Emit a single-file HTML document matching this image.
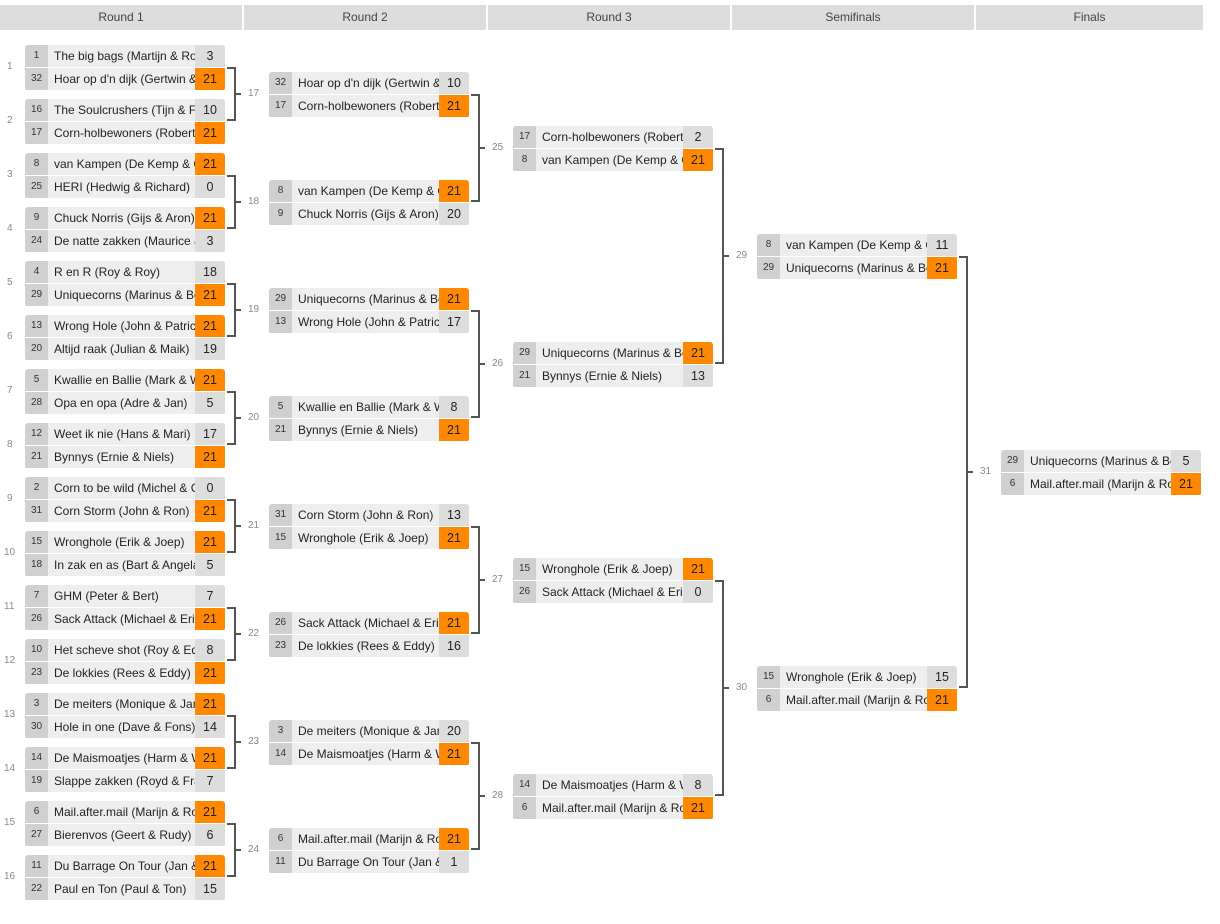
<!DOCTYPE html>
<html><head><meta charset="utf-8"><style>
body{margin:0;width:1220px;height:924px;background:#fff;position:relative;overflow:hidden;font-family:"Liberation Sans",sans-serif;}
.h{position:absolute;top:5px;height:25px;background:#ddd;color:#444;font-size:12px;line-height:25px;text-align:center;}
.m{position:absolute;width:200px;border-radius:3px;overflow:hidden;}
.r{height:22px;margin-bottom:1px;display:flex;font-size:12px;line-height:22px;}
.s{width:23px;background:#d0d0d0;color:#333;font-size:10px;text-align:center;flex:none;}
.n{width:141px;background:#eee;color:#222;padding-left:6px;white-space:nowrap;overflow:hidden;flex:none;}
.c{width:30px;background:#ddd;color:#222;text-align:center;flex:none;font-size:12.5px;}
.w{background:#ff8800;}
.l{position:absolute;font-size:10px;color:#889;}
svg{position:absolute;left:0;top:0;}
</style></head><body>
<div class="h" style="left:0;width:242px">Round 1</div>
<div class="h" style="left:244px;width:242px">Round 2</div>
<div class="h" style="left:488px;width:242px">Round 3</div>
<div class="h" style="left:732px;width:242px">Semifinals</div>
<div class="h" style="left:976px;width:227px">Finals</div>

<svg width="1220" height="924"><g stroke="#555" stroke-width="2" fill="none">
<path d="M227 68H235V120H227M235 94H241"/><path d="M227 176H235V228H227M235 202H241"/><path d="M227 284H235V336H227M235 310H241"/><path d="M227 392H235V444H227M235 418H241"/><path d="M227 500H235V552H227M235 526H241"/><path d="M227 608H235V660H227M235 634H241"/><path d="M227 716H235V768H227M235 742H241"/><path d="M227 824H235V876H227M235 850H241"/>
<path d="M471 95H479V201H471M479 148H485"/><path d="M471 311H479V417H471M479 364H485"/><path d="M471 527H479V633H471M479 580H485"/><path d="M471 743H479V849H471M479 796H485"/>
<path d="M715 149H723V363H715M723 256H729"/><path d="M715 581H723V795H715M723 688H729"/>
<path d="M959 257H967V687H959M967 472H973"/>
</g></svg>

<div class="l" style="left:7px;top:61px">1</div><div class="l" style="left:7px;top:115px">2</div><div class="l" style="left:7px;top:169px">3</div><div class="l" style="left:7px;top:223px">4</div><div class="l" style="left:7px;top:277px">5</div><div class="l" style="left:7px;top:331px">6</div><div class="l" style="left:7px;top:385px">7</div><div class="l" style="left:7px;top:439px">8</div><div class="l" style="left:7px;top:493px">9</div><div class="l" style="left:4px;top:547px">10</div><div class="l" style="left:4px;top:601px">11</div><div class="l" style="left:4px;top:655px">12</div><div class="l" style="left:4px;top:709px">13</div><div class="l" style="left:4px;top:763px">14</div><div class="l" style="left:4px;top:817px">15</div><div class="l" style="left:4px;top:871px">16</div>
<div class="l" style="left:248px;top:88px">17</div><div class="l" style="left:248px;top:196px">18</div><div class="l" style="left:248px;top:304px">19</div><div class="l" style="left:248px;top:412px">20</div><div class="l" style="left:248px;top:520px">21</div><div class="l" style="left:248px;top:628px">22</div><div class="l" style="left:248px;top:736px">23</div><div class="l" style="left:248px;top:844px">24</div>
<div class="l" style="left:492px;top:142px">25</div><div class="l" style="left:492px;top:358px">26</div><div class="l" style="left:492px;top:574px">27</div><div class="l" style="left:492px;top:790px">28</div>
<div class="l" style="left:736px;top:250px">29</div><div class="l" style="left:736px;top:682px">30</div>
<div class="l" style="left:980px;top:466px">31</div>

<!-- Round 1 -->
<div class="m" style="left:25px;top:45px"><div class="r"><span class="s">1</span><span class="n">The big bags (Martijn &amp; Rob)</span><span class="c">3</span></div><div class="r"><span class="s">32</span><span class="n">Hoar op d'n dijk (Gertwin &amp; Bas)</span><span class="c w">21</span></div></div>
<div class="m" style="left:25px;top:99px"><div class="r"><span class="s">16</span><span class="n">The Soulcrushers (Tijn &amp; Frank)</span><span class="c">10</span></div><div class="r"><span class="s">17</span><span class="n">Corn-holbewoners (Robert &amp; Jan)</span><span class="c w">21</span></div></div>
<div class="m" style="left:25px;top:153px"><div class="r"><span class="s">8</span><span class="n">van Kampen (De Kemp &amp; Co)</span><span class="c w">21</span></div><div class="r"><span class="s">25</span><span class="n">HERI (Hedwig &amp; Richard)</span><span class="c">0</span></div></div>
<div class="m" style="left:25px;top:207px"><div class="r"><span class="s">9</span><span class="n">Chuck Norris (Gijs &amp; Aron)</span><span class="c w">21</span></div><div class="r"><span class="s">24</span><span class="n">De natte zakken (Maurice &amp; Co)</span><span class="c">3</span></div></div>
<div class="m" style="left:25px;top:261px"><div class="r"><span class="s">4</span><span class="n">R en R (Roy &amp; Roy)</span><span class="c">18</span></div><div class="r"><span class="s">29</span><span class="n">Uniquecorns (Marinus &amp; Bert)</span><span class="c w">21</span></div></div>
<div class="m" style="left:25px;top:315px"><div class="r"><span class="s">13</span><span class="n">Wrong Hole (John &amp; Patrick)</span><span class="c w">21</span></div><div class="r"><span class="s">20</span><span class="n">Altijd raak (Julian &amp; Maik)</span><span class="c">19</span></div></div>
<div class="m" style="left:25px;top:369px"><div class="r"><span class="s">5</span><span class="n">Kwallie en Ballie (Mark &amp; Wim)</span><span class="c w">21</span></div><div class="r"><span class="s">28</span><span class="n">Opa en opa (Adre &amp; Jan)</span><span class="c">5</span></div></div>
<div class="m" style="left:25px;top:423px"><div class="r"><span class="s">12</span><span class="n">Weet ik nie (Hans &amp; Mari)</span><span class="c">17</span></div><div class="r"><span class="s">21</span><span class="n">Bynnys (Ernie &amp; Niels)</span><span class="c w">21</span></div></div>
<div class="m" style="left:25px;top:477px"><div class="r"><span class="s">2</span><span class="n">Corn to be wild (Michel &amp; Co)</span><span class="c">0</span></div><div class="r"><span class="s">31</span><span class="n">Corn Storm (John &amp; Ron)</span><span class="c w">21</span></div></div>
<div class="m" style="left:25px;top:531px"><div class="r"><span class="s">15</span><span class="n">Wronghole (Erik &amp; Joep)</span><span class="c w">21</span></div><div class="r"><span class="s">18</span><span class="n">In zak en as (Bart &amp; Angela)</span><span class="c">5</span></div></div>
<div class="m" style="left:25px;top:585px"><div class="r"><span class="s">7</span><span class="n">GHM (Peter &amp; Bert)</span><span class="c">7</span></div><div class="r"><span class="s">26</span><span class="n">Sack Attack (Michael &amp; Erik)</span><span class="c w">21</span></div></div>
<div class="m" style="left:25px;top:639px"><div class="r"><span class="s">10</span><span class="n">Het scheve shot (Roy &amp; Ed)</span><span class="c">8</span></div><div class="r"><span class="s">23</span><span class="n">De lokkies (Rees &amp; Eddy)</span><span class="c w">21</span></div></div>
<div class="m" style="left:25px;top:693px"><div class="r"><span class="s">3</span><span class="n">De meiters (Monique &amp; Jan)</span><span class="c w">21</span></div><div class="r"><span class="s">30</span><span class="n">Hole in one (Dave &amp; Fons)</span><span class="c">14</span></div></div>
<div class="m" style="left:25px;top:747px"><div class="r"><span class="s">14</span><span class="n">De Maismoatjes (Harm &amp; Wim)</span><span class="c w">21</span></div><div class="r"><span class="s">19</span><span class="n">Slappe zakken (Royd &amp; Frank)</span><span class="c">7</span></div></div>
<div class="m" style="left:25px;top:801px"><div class="r"><span class="s">6</span><span class="n">Mail.after.mail (Marijn &amp; Rob)</span><span class="c w">21</span></div><div class="r"><span class="s">27</span><span class="n">Bierenvos (Geert &amp; Rudy)</span><span class="c">6</span></div></div>
<div class="m" style="left:25px;top:855px"><div class="r"><span class="s">11</span><span class="n">Du Barrage On Tour (Jan &amp; Co)</span><span class="c w">21</span></div><div class="r"><span class="s">22</span><span class="n">Paul en Ton (Paul &amp; Ton)</span><span class="c">15</span></div></div>

<!-- Round 2 -->
<div class="m" style="left:269px;top:72px"><div class="r"><span class="s">32</span><span class="n">Hoar op d'n dijk (Gertwin &amp; Bas)</span><span class="c">10</span></div><div class="r"><span class="s">17</span><span class="n">Corn-holbewoners (Robert &amp; Jan)</span><span class="c w">21</span></div></div>
<div class="m" style="left:269px;top:180px"><div class="r"><span class="s">8</span><span class="n">van Kampen (De Kemp &amp; Co)</span><span class="c w">21</span></div><div class="r"><span class="s">9</span><span class="n">Chuck Norris (Gijs &amp; Aron)</span><span class="c">20</span></div></div>
<div class="m" style="left:269px;top:288px"><div class="r"><span class="s">29</span><span class="n">Uniquecorns (Marinus &amp; Bert)</span><span class="c w">21</span></div><div class="r"><span class="s">13</span><span class="n">Wrong Hole (John &amp; Patrick)</span><span class="c">17</span></div></div>
<div class="m" style="left:269px;top:396px"><div class="r"><span class="s">5</span><span class="n">Kwallie en Ballie (Mark &amp; Wim)</span><span class="c">8</span></div><div class="r"><span class="s">21</span><span class="n">Bynnys (Ernie &amp; Niels)</span><span class="c w">21</span></div></div>
<div class="m" style="left:269px;top:504px"><div class="r"><span class="s">31</span><span class="n">Corn Storm (John &amp; Ron)</span><span class="c">13</span></div><div class="r"><span class="s">15</span><span class="n">Wronghole (Erik &amp; Joep)</span><span class="c w">21</span></div></div>
<div class="m" style="left:269px;top:612px"><div class="r"><span class="s">26</span><span class="n">Sack Attack (Michael &amp; Erik)</span><span class="c w">21</span></div><div class="r"><span class="s">23</span><span class="n">De lokkies (Rees &amp; Eddy)</span><span class="c">16</span></div></div>
<div class="m" style="left:269px;top:720px"><div class="r"><span class="s">3</span><span class="n">De meiters (Monique &amp; Jan)</span><span class="c">20</span></div><div class="r"><span class="s">14</span><span class="n">De Maismoatjes (Harm &amp; Wim)</span><span class="c w">21</span></div></div>
<div class="m" style="left:269px;top:828px"><div class="r"><span class="s">6</span><span class="n">Mail.after.mail (Marijn &amp; Rob)</span><span class="c w">21</span></div><div class="r"><span class="s">11</span><span class="n">Du Barrage On Tour (Jan &amp; Co)</span><span class="c">1</span></div></div>

<!-- Round 3 -->
<div class="m" style="left:513px;top:126px"><div class="r"><span class="s">17</span><span class="n">Corn-holbewoners (Robert &amp; Jan)</span><span class="c">2</span></div><div class="r"><span class="s">8</span><span class="n">van Kampen (De Kemp &amp; Co)</span><span class="c w">21</span></div></div>
<div class="m" style="left:513px;top:342px"><div class="r"><span class="s">29</span><span class="n">Uniquecorns (Marinus &amp; Bert)</span><span class="c w">21</span></div><div class="r"><span class="s">21</span><span class="n">Bynnys (Ernie &amp; Niels)</span><span class="c">13</span></div></div>
<div class="m" style="left:513px;top:558px"><div class="r"><span class="s">15</span><span class="n">Wronghole (Erik &amp; Joep)</span><span class="c w">21</span></div><div class="r"><span class="s">26</span><span class="n">Sack Attack (Michael &amp; Erik)</span><span class="c">0</span></div></div>
<div class="m" style="left:513px;top:774px"><div class="r"><span class="s">14</span><span class="n">De Maismoatjes (Harm &amp; Wim)</span><span class="c">8</span></div><div class="r"><span class="s">6</span><span class="n">Mail.after.mail (Marijn &amp; Rob)</span><span class="c w">21</span></div></div>

<!-- Semis -->
<div class="m" style="left:757px;top:234px"><div class="r"><span class="s">8</span><span class="n">van Kampen (De Kemp &amp; Co)</span><span class="c">11</span></div><div class="r"><span class="s">29</span><span class="n">Uniquecorns (Marinus &amp; Bert)</span><span class="c w">21</span></div></div>
<div class="m" style="left:757px;top:666px"><div class="r"><span class="s">15</span><span class="n">Wronghole (Erik &amp; Joep)</span><span class="c">15</span></div><div class="r"><span class="s">6</span><span class="n">Mail.after.mail (Marijn &amp; Rob)</span><span class="c w">21</span></div></div>

<!-- Final -->
<div class="m" style="left:1001px;top:450px"><div class="r"><span class="s">29</span><span class="n">Uniquecorns (Marinus &amp; Bert)</span><span class="c">5</span></div><div class="r"><span class="s">6</span><span class="n">Mail.after.mail (Marijn &amp; Rob)</span><span class="c w">21</span></div></div>
</body></html>
